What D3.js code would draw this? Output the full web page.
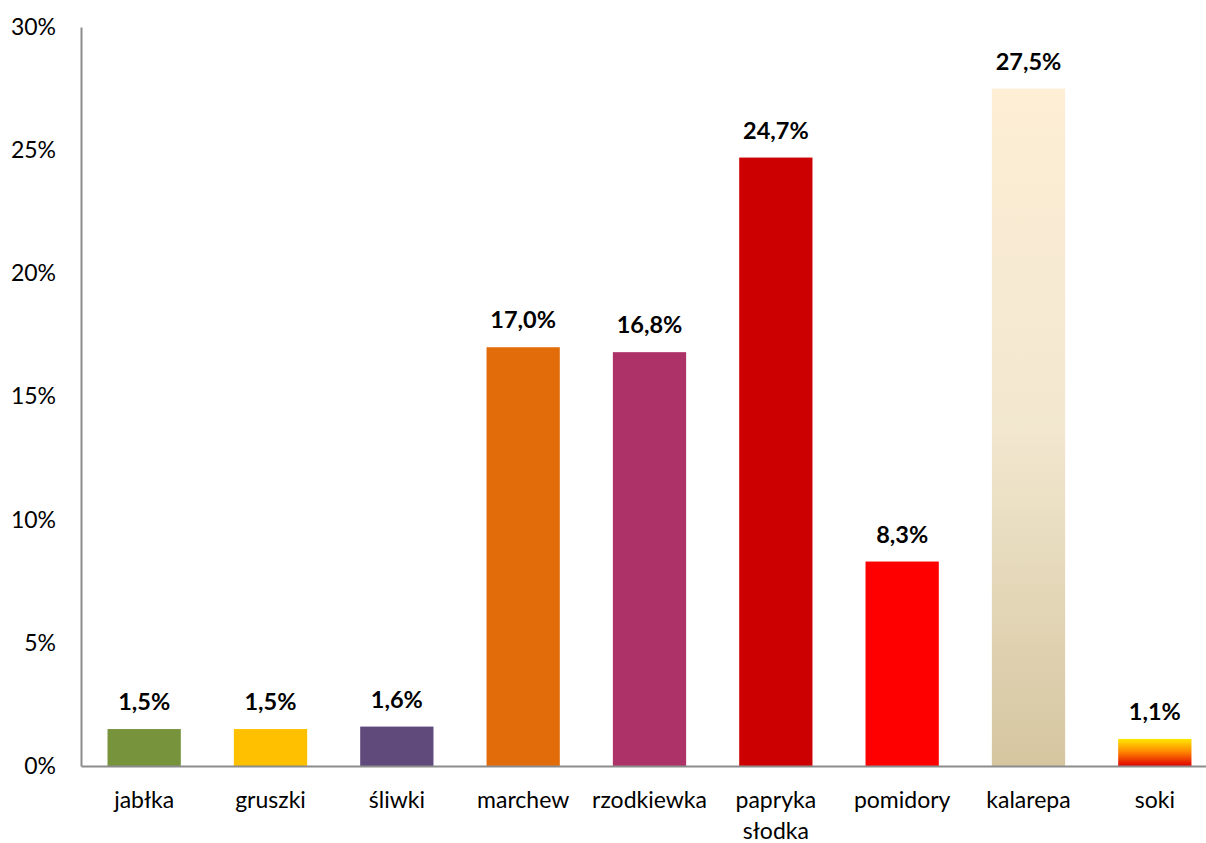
<!DOCTYPE html>
<html><head><meta charset="utf-8">
<script src="https://cdn.jsdelivr.net/npm/d3@7"></script>
<style>body{margin:0;background:#fff;overflow:hidden}svg{display:block}text{font-family:Lato,"Open Sans",sans-serif}</style>
</head><body><svg id="c" width="1206" height="843"></svg>
<script>
const categories = ["jabłka","gruszki","śliwki","marchew","rzodkiewka","papryka słodka","pomidory","kalarepa","soki"];
const values = [1.5,1.5,1.6,17.0,16.8,24.7,8.3,27.5,1.1];
const valueLabels = ["1,5%","1,5%","1,6%","17,0%","16,8%","24,7%","8,3%","27,5%","1,1%"];
const yTicks = [0,5,10,15,20,25,30];
const colors = ["#77933C","#FFC000","#604A7B","#E36C0A","#AC3267","#CC0000","#FF0000","url(#gK)","url(#gS)"];

const svg = d3.select("#c");
const m = {l:81, t:27, b:77};
const H = 843;
const x = d3.scaleBand().domain(categories).range([m.l, 1218]).paddingInner(0.42).paddingOuter(0.21);
const y = d3.scaleLinear().domain([0,30]).range([H-m.b, m.t]);

const defs = svg.append("defs");
const gK = defs.append("linearGradient").attr("id","gK").attr("x1",0).attr("y1",0).attr("x2",0).attr("y2",1);
gK.append("stop").attr("offset","0%").attr("stop-color","#FDEED5");
gK.append("stop").attr("offset","50%").attr("stop-color","#F2E7CF");
gK.append("stop").attr("offset","100%").attr("stop-color","#D5C6A0");
const gS = defs.append("linearGradient").attr("id","gS").attr("x1",0).attr("y1",0).attr("x2",0).attr("y2",1);
gS.append("stop").attr("offset","0%").attr("stop-color","#FFE800");
gS.append("stop").attr("offset","45%").attr("stop-color","#FF8C00");
gS.append("stop").attr("offset","100%").attr("stop-color","#E00000");

svg.selectAll("rect.bar").data(values).join("rect").attr("class","bar")
  .attr("x",(d,i)=>x(categories[i])).attr("width",x.bandwidth())
  .attr("y",d=>y(d)).attr("height",d=>y(0)-y(d)).attr("fill",(d,i)=>colors[i]);

svg.selectAll("text.val").data(values).join("text").attr("class","val")
  .attr("x",(d,i)=>x(categories[i])+x.bandwidth()/2).attr("y",d=>y(d)-19)
  .attr("text-anchor","middle").attr("font-size",23.5).attr("font-weight","bold").attr("fill","#000")
  .text((d,i)=>valueLabels[i]);

// y axis
const ya = svg.append("g").attr("transform",`translate(${m.l},0)`)
  .call(d3.axisLeft(y).tickValues(yTicks).tickSize(0).tickPadding(25).tickFormat(d=>d+"%"));
ya.select(".domain").attr("stroke","#8c8c8c").attr("stroke-width",2);
ya.selectAll("text").attr("font-size",23).attr("fill","#000").attr("font-family","Lato,sans-serif");

// x axis
const xa = svg.append("g").attr("transform",`translate(0,${y(0)})`)
  .call(d3.axisBottom(x).tickSize(0).tickPadding(0).tickFormat(""));
xa.select(".domain").attr("stroke","#8c8c8c").attr("stroke-width",2);
xa.selectAll(".tick").each(function(d){
  const t = d3.select(this).append("text").attr("text-anchor","middle").attr("font-size",23).attr("fill","#000");
  const words = d.split(" ");
  words.forEach((w,i)=>t.append("tspan").attr("x",0).attr("y",42+i*31).text(w));
});
</script></body></html>
